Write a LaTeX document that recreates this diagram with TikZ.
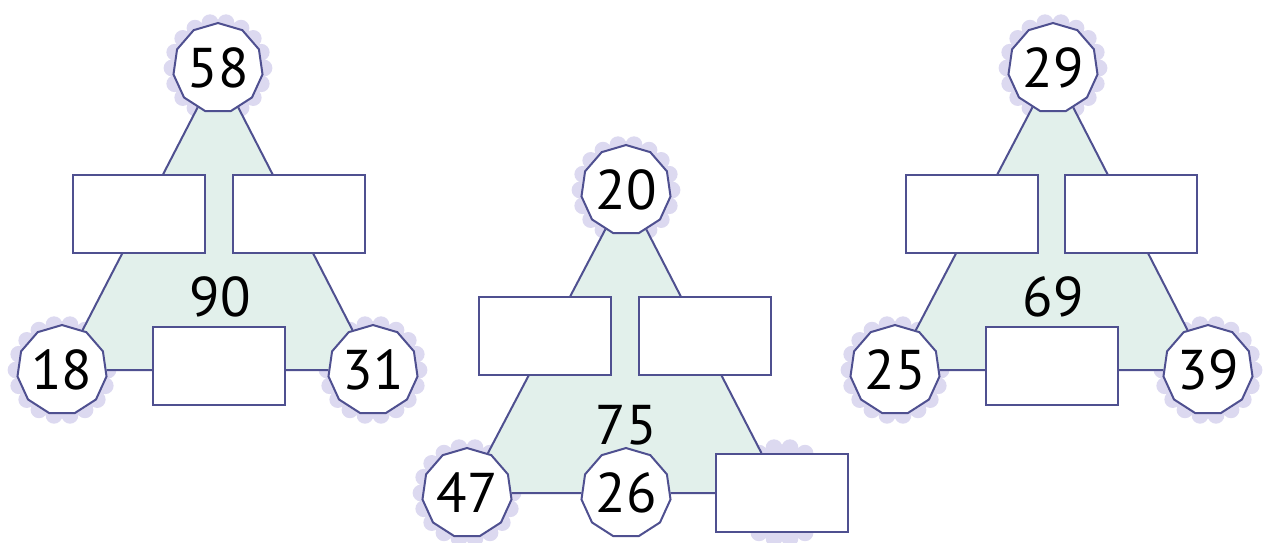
\documentclass[tikz,border=0pt]{standalone}
\usepackage{fontspec}
\setmainfont{PT Sans}
\usetikzlibrary{shapes.geometric}
\pgfdeclarelayer{glow}
\pgfdeclarelayer{under}
\pgfsetlayers{glow,under,main}
\definecolor{edgeblue}{HTML}{4F5090}
\definecolor{glowlav}{HTML}{DCD9F0}
\definecolor{mint}{HTML}{E2F0EB}
\tikzset{
    numnode/.style={
        regular polygon,
        regular polygon sides=11,
        draw=edgeblue,
        line width=1pt,
        fill=white,
        minimum size=41pt,
        inner sep=0pt,
        font=\fontsize{28}{28}\selectfont
    },
    answerbox/.style={
        rectangle,
        draw=edgeblue,
        line width=1pt,
        fill=white,
        minimum width=66pt,
        minimum height=39pt
    },
    side/.style={
        draw=edgeblue,
        line width=1pt
    },
    sumlabel/.style={
        font=\fontsize{28}{28}\selectfont
    }
}
% lavender scalloped halo behind a vertex
\newcommand{\halo}[1]{%
    \fill[glowlav] (#1) circle (24pt);
    \foreach \a in {0,20,...,340}
        \fill[glowlav] (#1) ++(\a:23pt) circle (4.2pt);
}

\begin{document}
\begin{tikzpicture}[x=0.5pt, y=-0.5pt]
\useasboundingbox (0,0) rectangle (1271,542);

% left triangle
\node[numnode] (l58) at (218,68) {58};
\node[numnode] (l18) at (62,370) {18};
\node[numnode] (l31) at (373,370) {31};
\node[answerbox] (lbox1) at (139,214) {};
\node[answerbox] (lbox2) at (299,214) {};
\node[answerbox] (lbox3) at (219,366) {};
\node[sumlabel] (l90) at (220,297) {90};

% middle triangle
\node[numnode] (m20) at (626,190) {20};
\node[numnode] (m47) at (467,493) {47};
\node[numnode] (m26) at (626,493) {26};
\node[answerbox] (mbox1) at (545,336) {};
\node[answerbox] (mbox2) at (705,336) {};
\node[answerbox] (mbox3) at (782,493) {};
\node[sumlabel] (m75) at (626,425) {75};

% right triangle
\node[numnode] (r29) at (1053,68) {29};
\node[numnode] (r25) at (895,370) {25};
\node[numnode] (r39) at (1208,370) {39};
\node[answerbox] (rbox1) at (972,214) {};
\node[answerbox] (rbox2) at (1131,214) {};
\node[answerbox] (rbox3) at (1052,366) {};
\node[sumlabel] (r69) at (1053,297) {69};

\begin{pgfonlayer}{glow}
\halo{l58} \halo{l18} \halo{l31}
\halo{m20} \halo{m47} \halo{mbox3}
\halo{r29} \halo{r25} \halo{r39}
\end{pgfonlayer}

\begin{pgfonlayer}{under}
\fill[mint] (l58.center) -- (l18.center) -- (l31.center) -- cycle;
\fill[mint] (m20.center) -- (m47.center) -- (mbox3.center) -- cycle;
\fill[mint] (r29.center) -- (r25.center) -- (r39.center) -- cycle;

\draw[side] (l58) -- (l18);
\draw[side] (l58) -- (l31);
\draw[side] (l18) -- (l31);

\draw[side] (m20) -- (m47);
\draw[side] (m20) -- (mbox3);
\draw[side] (m47) -- (m26);
\draw[side] (m26) -- (mbox3);

\draw[side] (r29) -- (r25);
\draw[side] (r29) -- (r39);
\draw[side] (r25) -- (r39);
\end{pgfonlayer}

\end{tikzpicture}
\end{document}
